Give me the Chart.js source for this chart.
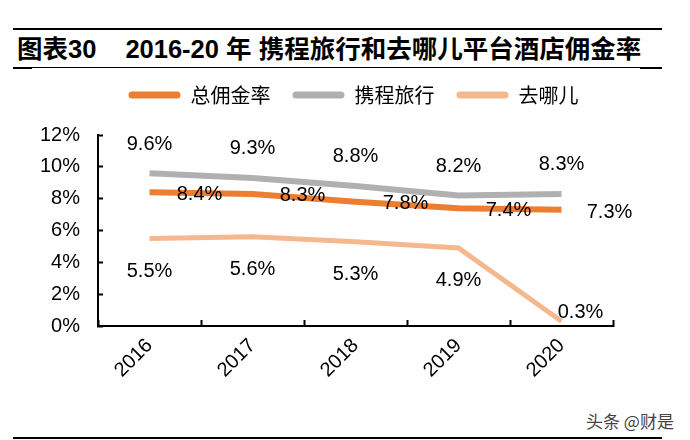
<!DOCTYPE html>
<html>
<head>
<meta charset="utf-8">
<script src="https://cdn.jsdelivr.net/npm/chart.js@4/dist/chart.umd.min.js"></script>
<style>
  html, body { margin: 0; padding: 0; background: #fff; }
  body { width: 690px; height: 440px; position: relative; overflow: hidden;
         font-family: "Liberation Sans", Arial, "Noto Sans CJK SC", sans-serif; }
  .rule-top { position: absolute; left: 13px; top: 28px; width: 649px; height: 2px; background: #000; }
  .rule-mid { position: absolute; left: 13px; top: 67px; width: 649px; height: 1px; background: #000; }
  .tab-l { position: absolute; left: 13px; top: 67px; width: 19px; height: 2px; background: #000; }
  .tab-r { position: absolute; left: 640px; top: 67px; width: 22px; height: 2px; background: #000; }
  .rule-bot { position: absolute; left: 13px; top: 437px; width: 649px; height: 2px; background: #000; }
  .title { position: absolute; left: 17px; top: 33px; font-size: 25.5px; font-weight: bold; line-height: 32px;
           color: #000; white-space: nowrap;
           font-family: "Liberation Sans", Arial, "Noto Sans CJK SC", sans-serif; }
  .title .gap { display: inline-block; width: 29px; }
  .mark { position: absolute; left: 586px; top: 408px; font-size: 17px; color: #444;
          font-family: "Noto Sans CJK SC", sans-serif; }
  .wrap { position: absolute; left: 0; top: 63px; width: 690px; height: 337px; }
</style>
</head>
<body>
<div class="rule-top"></div>
<div class="title">图表30<span class="gap"></span>2016-20 年 携程旅行和去哪儿平台酒店佣金率</div>
<div class="rule-mid"></div>
<div class="tab-l"></div>
<div class="tab-r"></div>
<div class="wrap"><canvas id="chart"></canvas></div>
<div class="mark">头条 @财是</div>
<div class="rule-bot"></div>
<script>
const years = ['2016', '2017', '2018', '2019', '2020'];
const seriesNames = ['总佣金率', '携程旅行', '去哪儿'];
const totalRate = [8.4, 8.3, 7.8, 7.4, 7.3];
const ctripRate = [9.6, 9.3, 8.8, 8.2, 8.3];
const qunarRate = [5.5, 5.6, 5.3, 4.9, 0.3];
const yTickLabels = ['0%', '2%', '4%', '6%', '8%', '10%', '12%'];

const colors = ['#ED7D31', '#B0B0B0', '#F5B78E'];
// where each series puts its value labels, relative to the point
const labelShift = [
  [[50, 2], [50, 2], [50, 2], [50, 2], [48, 3]],
  [[0, -29], [0, -29], [0, -29], [0, -29], [0, -29]],
  [[0, 33], [0, 33], [0, 33], [0, 32], [19, -9]]
];

const font = "'Liberation Sans', Arial, sans-serif";

const valueLabels = {
  id: 'valueLabels',
  afterDatasetsDraw(chart) {
    const ctx = chart.ctx;
    ctx.save();
    ctx.font = '20px ' + font;
    ctx.fillStyle = '#000';
    ctx.textAlign = 'center';
    ctx.textBaseline = 'middle';
    chart.data.datasets.forEach((ds, d) => {
      const meta = chart.getDatasetMeta(d);
      meta.data.forEach((pt, i) => {
        const s = labelShift[d][i];
        ctx.fillText(ds.data[i].toFixed(1) + '%', pt.x + s[0], pt.y + s[1]);
      });
    });
    ctx.restore();
  }
};

// extra room under the legend, and move it a bit to the right
const legendPlace = {
  id: 'legendPlace',
  beforeInit(chart) {
    const fit = chart.legend.fit;
    chart.legend.fit = function () {
      fit.bind(chart.legend)();
      this.height += 20;
    };
  },
  afterLayout(chart) {
    chart.legend.left += 47;
    chart.legend.right += 47;
  }
};

new Chart(document.getElementById('chart'), {
  type: 'line',
  data: {
    labels: years,
    datasets: [
      { label: seriesNames[0], data: totalRate, borderColor: colors[0], backgroundColor: colors[0], borderWidth: 6 },
      { label: seriesNames[1], data: ctripRate, borderColor: colors[1], backgroundColor: colors[1], borderWidth: 6 },
      { label: seriesNames[2], data: qunarRate, borderColor: colors[2], backgroundColor: colors[2], borderWidth: 5 }
    ]
  },
  options: {
    responsive: true,
    maintainAspectRatio: false,
    animation: false,
    layout: { padding: { left: 0, right: 77, top: 0, bottom: 0 } },
    elements: { point: { radius: 0 }, line: { tension: 0, borderCapStyle: 'butt' } },
    plugins: {
      legend: {
        position: 'top',
        labels: {
          boxWidth: 52,
          boxHeight: 7,
          padding: 22,
          color: '#000',
          font: { size: 20, family: "'Noto Sans CJK SC', sans-serif" },
          generateLabels(chart) {
            return Chart.defaults.plugins.legend.labels.generateLabels(chart).map(item => {
              item.lineWidth = 0;
              item.borderRadius = 3.5;
              return item;
            });
          }
        }
      },
      tooltip: { enabled: false }
    },
    scales: {
      x: {
        offset: true,
        grid: { offset: true, drawOnChartArea: false, tickLength: -6, tickWidth: 2, tickColor: '#000' },
        border: { color: '#000', width: 2 },
        ticks: { color: '#000', maxRotation: 45, minRotation: 45, padding: 14, font: { size: 20, family: font } },
        afterFit(scale) { scale.height = 74; }
      },
      y: {
        min: 0,
        max: 12,
        grid: { drawOnChartArea: false, tickLength: -5, tickWidth: 2, tickColor: '#000' },
        border: { color: '#000', width: 2 },
        ticks: {
          stepSize: 2,
          color: '#000',
          padding: 23,
          font: { size: 20, family: font },
          callback: (v, i) => yTickLabels[i]
        },
        afterFit(scale) { scale.width = 98; }
      }
    }
  },
  plugins: [valueLabels, legendPlace]
});
</script>
</body>
</html>
